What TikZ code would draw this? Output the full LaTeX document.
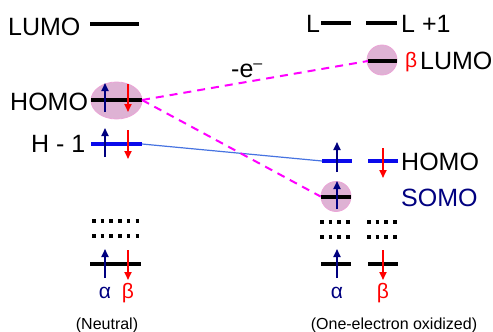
\documentclass[tikz,border=0pt]{standalone}
\usepackage{fontspec}
\setmainfont{Liberation Sans}
\usetikzlibrary{arrows.meta,shapes.geometric}
\definecolor{navyc}{RGB}{0,0,128}
\definecolor{redc}{RGB}{255,0,0}
\definecolor{bluec}{RGB}{10,10,235}
\definecolor{linkc}{RGB}{70,115,225}
\definecolor{magc}{RGB}{255,0,255}
\definecolor{pinkf}{RGB}{222,178,212}
\definecolor{pinkd}{RGB}{235,165,215}
\tikzset{
  lvl/.style={line width=4pt},
  blvl/.style={line width=4pt,draw=bluec},
  upe/.style={navyc,line width=1.8pt,-{Triangle[length=8pt,width=7pt]}},
  dne/.style={redc,line width=1.8pt,-{Triangle[length=8pt,width=7pt]}},
  dots/.style={line width=3.5pt,dash pattern=on 3.5pt off 5.2pt},
  blob/.style={ellipse,fill=pinkf,draw=pinkd,line width=0.8pt,inner sep=0pt},
  big/.style={font=\fontsize{25}{25}\selectfont,inner sep=0pt},
  mid/.style={font=\fontsize{21}{21}\selectfont,inner sep=0pt},
  small/.style={font=\fontsize{16}{16}\selectfont,inner sep=0pt},
  trans/.style={magc,line width=2pt,dash pattern=on 8pt off 6pt},
  link/.style={linkc,line width=1.2pt}
}
\begin{document}
\begin{tikzpicture}[x=1pt,y=-1pt]
\useasboundingbox (0,0) rectangle (493,332);
% ---------- neutral ----------
\node[big,anchor=base west] (tLumo) at (8,35) {LUMO};
\coordinate (lumoL) at (90,24); \coordinate (lumoR) at (139,24);
\draw[lvl] (lumoL) -- (lumoR);

\node[blob,minimum width=51pt,minimum height=37pt] (homoBlob) at (116.5,100.5) {};
\node[big,anchor=base west] (tHomo) at (10,110) {HOMO};
\coordinate (homoL) at (91,100); \coordinate (homoR) at (142,100);
\draw[lvl] (homoL) -- (homoR);
\coordinate (hu1) at (105,112); \coordinate (hu2) at (105,83);
\coordinate (hd1) at (128,84); \coordinate (hd2) at (128,112);
\draw[upe] (hu1) -- (hu2);
\draw[dne] (hd1) -- (hd2);

\node[big,anchor=base west] (tH1) at (31,152) {H - 1};
\coordinate (h1L) at (91,144); \coordinate (h1R) at (142,144);
\draw[blvl] (h1L) -- (h1R);
\coordinate (h1u1) at (105,157); \coordinate (h1u2) at (105,128);
\coordinate (h1d1) at (128,130); \coordinate (h1d2) at (128,159);
\draw[upe] (h1u1) -- (h1u2);
\draw[dne] (h1d1) -- (h1d2);

\coordinate (nd1a) at (92,221); \coordinate (nd1b) at (140,221);
\coordinate (nd2a) at (92,236); \coordinate (nd2b) at (140,236);
\draw[dots] (nd1a) -- (nd1b);
\draw[dots] (nd2a) -- (nd2b);

\coordinate (nbL) at (90,264); \coordinate (nbR) at (141,264);
\draw[lvl] (nbL) -- (nbR);
\coordinate (nbu1) at (105,278); \coordinate (nbu2) at (105,249);
\coordinate (nbd1) at (128,250); \coordinate (nbd2) at (128,280);
\draw[upe] (nbu1) -- (nbu2);
\draw[dne] (nbd1) -- (nbd2);
\node[mid,text=navyc,anchor=base] (nA) at (105,298) {α};
\node[mid,text=redc,anchor=base] (nB) at (128,298) {β};
\node[small,anchor=base] (tNeutral) at (107,329) {(Neutral)};

% ---------- oxidized ----------
\node[big,anchor=base west] (tL) at (306,32) {L};
\coordinate (lL1) at (321,23); \coordinate (lL2) at (351,23);
\draw[lvl] (lL1) -- (lL2);
\coordinate (l1L1) at (366,23); \coordinate (l1L2) at (397,23);
\draw[lvl] (l1L1) -- (l1L2);
\node[big,anchor=base west] (tL1) at (401,32) {L +1};

\node[circle,fill=pinkf,draw=pinkd,line width=0.8pt,minimum size=30pt,inner sep=0pt] (lumoBlob) at (382,60) {};
\coordinate (blL) at (368,61); \coordinate (blR) at (397,61);
\draw[lvl] (blL) -- (blR);
\node[mid,text=redc,anchor=base west] (tBeta) at (405,67) {β};
\node[big,anchor=base west] (tBLumo) at (420,69) {LUMO};

\coordinate (rhL) at (322,161); \coordinate (rhR) at (352,161);
\draw[blvl] (rhL) -- (rhR);
\coordinate (rh2L) at (368,161); \coordinate (rh2R) at (398,161);
\draw[blvl] (rh2L) -- (rh2R);
\coordinate (rhu1) at (337,172); \coordinate (rhu2) at (337,142);
\coordinate (rhd1) at (383,148); \coordinate (rhd2) at (383,178);
\draw[upe] (rhu1) -- (rhu2);
\draw[dne] (rhd1) -- (rhd2);
\node[big,anchor=base west] (tRHomo) at (401,170) {HOMO};

\node[circle,fill=pinkf,draw=pinkd,line width=0.8pt,minimum size=30pt,inner sep=0pt] (somoBlob) at (336,196.5) {};
\coordinate (sL) at (321,197); \coordinate (sR) at (351,197);
\draw[lvl] (sL) -- (sR);
\coordinate (su1) at (337,209); \coordinate (su2) at (337,181);
\draw[upe] (su1) -- (su2);
\node[big,text=navyc,anchor=base west] (tSomo) at (401,206) {SOMO};

\coordinate (rd1a) at (320,222); \coordinate (rd1b) at (352,222);
\coordinate (rd2a) at (320,237); \coordinate (rd2b) at (352,237);
\coordinate (rd3a) at (367,222); \coordinate (rd3b) at (399,222);
\coordinate (rd4a) at (367,237); \coordinate (rd4b) at (399,237);
\draw[dots] (rd1a) -- (rd1b);
\draw[dots] (rd2a) -- (rd2b);
\draw[dots] (rd3a) -- (rd3b);
\draw[dots] (rd4a) -- (rd4b);

\coordinate (rbL) at (321,264); \coordinate (rbR) at (351,264);
\draw[lvl] (rbL) -- (rbR);
\coordinate (rb2L) at (368,264); \coordinate (rb2R) at (398,264);
\draw[lvl] (rb2L) -- (rb2R);
\coordinate (rbu1) at (337,278); \coordinate (rbu2) at (337,249);
\coordinate (rbd1) at (383,250); \coordinate (rbd2) at (383,280);
\draw[upe] (rbu1) -- (rbu2);
\draw[dne] (rbd1) -- (rbd2);
\node[mid,text=navyc,anchor=base] (rA) at (337,298) {α};
\node[mid,text=redc,anchor=base] (rB) at (383,298) {β};
\node[small,anchor=base] (tOx) at (394,329) {(One-electron oxidized)};

% ---------- connectors ----------
\draw[link] (h1R) -- (rhL);
\draw[trans] (homoR) -- (blL);
\draw[trans] (homoR) -- (somoBlob.west);
\node[font=\fontsize{25}{25}\selectfont,inner sep=0pt,anchor=base west] (tE) at (231,77) {-e\raisebox{9pt}{\fontsize{16}{16}\selectfont –}};
\end{tikzpicture}
\end{document}
